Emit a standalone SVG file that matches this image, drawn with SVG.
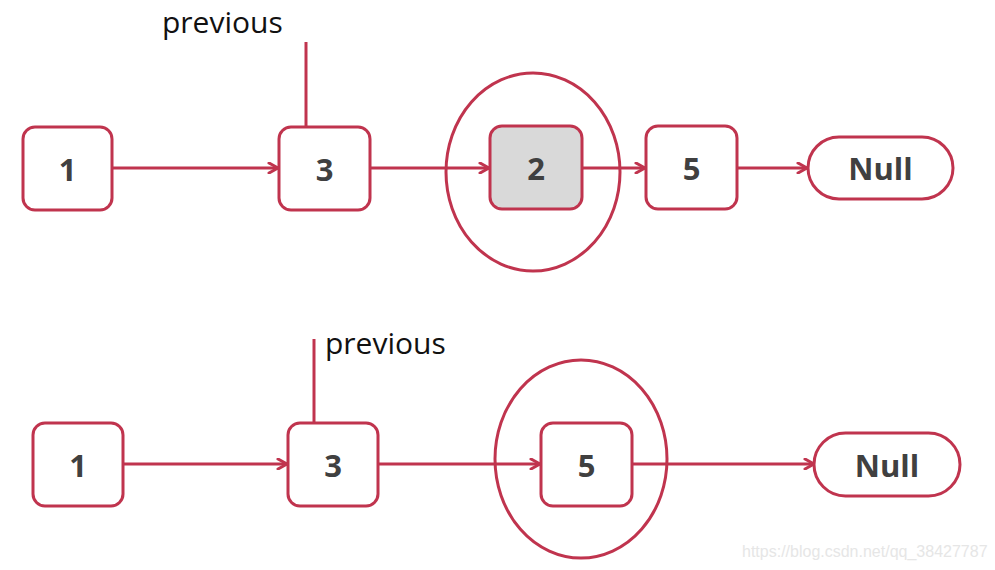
<svg xmlns="http://www.w3.org/2000/svg" width="995" height="570" viewBox="0 0 995 570">
<defs>
<style>
.node{fill:#ffffff;stroke:#c0344e;stroke-width:3}
.sel{fill:#d9d9d9;stroke:#c0344e;stroke-width:3}
.ring{fill:none;stroke:#c0344e;stroke-width:3}
.lbl{font-family:"Open Sans","Liberation Sans",sans-serif;font-weight:bold;font-size:31px;fill:#404040;text-anchor:middle;dominant-baseline:central}
.edge{fill:none;stroke:#c0344e;stroke-width:3}
.ptr{fill:none;stroke:#c0344e;stroke-width:3}
.prev{font-family:"Open Sans","Liberation Sans",sans-serif;font-size:30px;fill:#111111}
.wm{font-family:"Liberation Sans",Arial,sans-serif;font-size:16px;fill:#e6e6e6}
</style>
<marker id="arr" viewBox="0 0 12 12" refX="11" refY="6" markerWidth="12" markerHeight="12" markerUnits="userSpaceOnUse" orient="auto">
<path d="M2,1 L11,6 L2,11" fill="none" stroke="#c0344e" stroke-width="3" stroke-linecap="round" stroke-linejoin="round"/>
</marker>
</defs>
<rect width="995" height="570" fill="#ffffff"/>

<g id="connectors">
<line class="edge" x1="112" y1="168" x2="278" y2="168" marker-end="url(#arr)"/>
<line class="edge" x1="370" y1="168" x2="489" y2="168" marker-end="url(#arr)"/>
<line class="edge" x1="582" y1="168" x2="645" y2="168" marker-end="url(#arr)"/>
<line class="edge" x1="737" y1="168" x2="807" y2="168" marker-end="url(#arr)"/>
<line class="edge" x1="123" y1="464" x2="287" y2="464" marker-end="url(#arr)"/>
<line class="edge" x1="378" y1="464" x2="540" y2="464" marker-end="url(#arr)"/>
<line class="edge" x1="632" y1="464" x2="814" y2="464" marker-end="url(#arr)"/>
</g>

<g id="top-row">
<g id="t-node1"><rect class="node" x="23" y="127" width="89" height="83" rx="12"/><text class="lbl" x="67.5" y="168.5">1</text></g>
<g id="t-node3"><rect class="node" x="279" y="127" width="91" height="83" rx="12"/><text class="lbl" x="324.5" y="168.5">3</text></g>
<g id="t-node2"><rect class="sel" x="490" y="126" width="92" height="83" rx="12"/><text class="lbl" x="536" y="168">2</text></g>
<g id="t-node5"><rect class="node" x="646" y="126" width="91" height="83" rx="12"/><text class="lbl" x="691.5" y="168">5</text></g>
<g id="t-null"><rect class="node" x="808" y="137" width="145" height="62" rx="31"/><text class="lbl" x="880.5" y="168">Null</text></g>
<g id="t-ring"><ellipse class="ring" cx="533" cy="172" rx="87" ry="99"/></g>
<g id="t-previous"><line class="ptr" x1="306" y1="42" x2="306" y2="126"/><text class="prev" x="162" y="33">previous</text></g>
</g>

<g id="bottom-row">
<g id="b-node1"><rect class="node" x="33" y="423" width="90" height="83" rx="12"/><text class="lbl" x="78" y="464.5">1</text></g>
<g id="b-node3"><rect class="node" x="288" y="423" width="90" height="83" rx="12"/><text class="lbl" x="333" y="464.5">3</text></g>
<g id="b-node5"><rect class="node" x="541" y="423" width="91" height="83" rx="12"/><text class="lbl" x="586.5" y="464.5">5</text></g>
<g id="b-null"><rect class="node" x="814" y="433" width="146" height="63" rx="31.5"/><text class="lbl" x="887" y="464.5">Null</text></g>
<g id="b-ring"><ellipse class="ring" cx="581" cy="459" rx="86" ry="99"/></g>
<g id="b-previous"><line class="ptr" x1="314" y1="339" x2="314" y2="422"/><text class="prev" x="325" y="354">previous</text></g>
</g>

<text class="wm" x="742" y="557">https://blog.csdn.net/qq_38427787</text>
</svg>
